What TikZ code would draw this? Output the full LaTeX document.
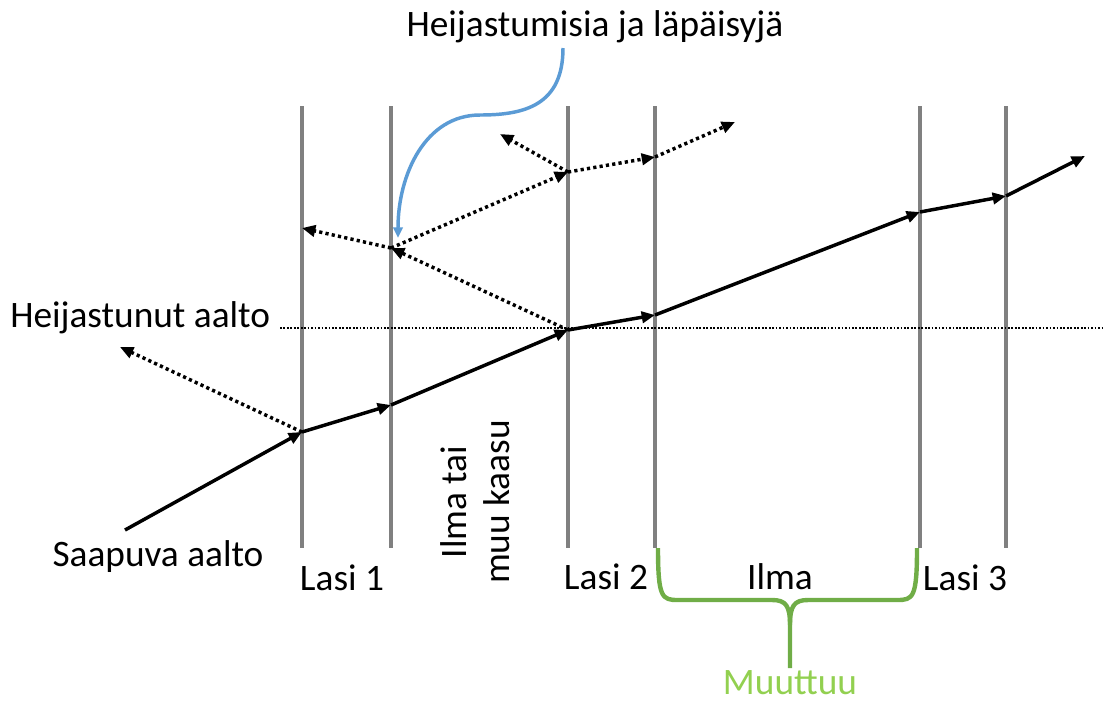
\documentclass[tikz,border=0pt]{standalone}
\usepackage{fontspec}
\setmainfont{Carlito}
\usetikzlibrary{arrows.meta}
\definecolor{glass}{HTML}{808080}
\definecolor{bluec}{HTML}{5B9BD5}
\definecolor{braceg}{HTML}{70AD47}
\definecolor{textg}{HTML}{92D050}
\begin{document}
\begin{tikzpicture}[x=0.75pt,y=-0.75pt,
  pane/.style={draw=glass,line width=2.8pt},
  wave/.style={draw=black,line width=2.6pt,-{Triangle[length=10pt,width=8.5pt]}},
  refl/.style={draw=black,line width=2.6pt,dash pattern=on 2.4pt off 2.4pt,-{Triangle[length=10pt,width=8.5pt]}},
  lbl/.style={font=\fontsize{28pt}{32pt}\selectfont,inner sep=0pt}]
\useasboundingbox (0,0) rectangle (1105,701);
% glass panes
\foreach \n/\x in {a/302,b/391,c/568,d/655,e/920,f/1006}{
  \coordinate (\n top) at (\x,106);
  \coordinate (\n bot) at (\x,548);
  \draw[pane] (\n top) -- (\n bot);
}
% horizontal reference line
\coordinate (h1) at (280,328);
\coordinate (h2) at (1105,328);
\draw[black,line width=1.3pt,dash pattern=on 1.3pt off 1.3pt] (h1) -- (h2);
% main wave points
\coordinate (w0) at (125,530);
\coordinate (w1) at (302,432);
\coordinate (w2) at (391,405);
\coordinate (w3) at (568,330);
\coordinate (w4) at (655,315);
\coordinate (w5) at (920,212);
\coordinate (w6) at (1006,196);
\coordinate (w7) at (1085,156);
\draw[wave] (w0) -- (w1);
\draw[wave] (w1) -- (w2);
\draw[wave] (w2) -- (w3);
\draw[wave] (w3) -- (w4);
\draw[wave] (w4) -- (w5);
\draw[wave] (w5) -- (w6);
\draw[wave] (w6) -- (w7);
% reflected / transmitted
\coordinate (r1) at (120,347);
\coordinate (r2) at (391,248);
\coordinate (r3) at (302,228);
\coordinate (r4) at (568,172);
\coordinate (r5) at (500,134);
\coordinate (r6) at (655,157);
\coordinate (r7) at (735,122);
\draw[refl] (w1) -- (r1);
\draw[refl] (w3) -- (r2);
\draw[refl] (r2) -- (r3);
\draw[refl] (r2) -- (r4);
\draw[refl] (r4) -- (r5);
\draw[refl] (r4) -- (r6);
\draw[refl] (r6) -- (r7);
% labels
\node[lbl] (top) at (595,27) {Heijastumisia ja läpäisyjä};
\node[lbl,anchor=west] (hl) at (10,318) {Heijastunut aalto};
\node[lbl] (sa) at (158,557) {Saapuva aalto};
\node[lbl] (l1) at (342,578) {Lasi 1};
\node[lbl,rotate=90,align=center] (ilk) at (475,502) {Ilma tai\\muu kaasu};
\node[lbl] (l2) at (606,577) {Lasi 2};
\node[lbl] (il) at (780,577) {Ilma};
\node[lbl] (l3) at (965,578) {Lasi 3};
\node[lbl,text=textg] (mu) at (790,683) {Muuttuu};
% blue curve
\coordinate (b0) at (563,48);
\coordinate (b1) at (480,115);
\coordinate (b2) at (398,238);
\draw[bluec,line width=2.6pt,-{Triangle[length=8pt,width=7pt]}] (b0) .. controls (563,105) and (525,115) .. (b1) .. controls (425,115) and (398,175) .. (b2);
% green brace
\coordinate (g0) at (658,548);
\coordinate (g1) at (917,548);
\coordinate (g2) at (790,668);
\draw[braceg,line width=3.3pt,line join=round] (g0) .. controls (658,598) and (662,600) .. (678,600) -- (772,600) .. controls (786,600) and (790,606) .. (790,625) -- (g2);
\draw[braceg,line width=3.3pt,line join=round] (g1) .. controls (917,598) and (913,600) .. (897,600) -- (808,600) .. controls (794,600) and (790,606) .. (790,625);
\end{tikzpicture}
\end{document}
